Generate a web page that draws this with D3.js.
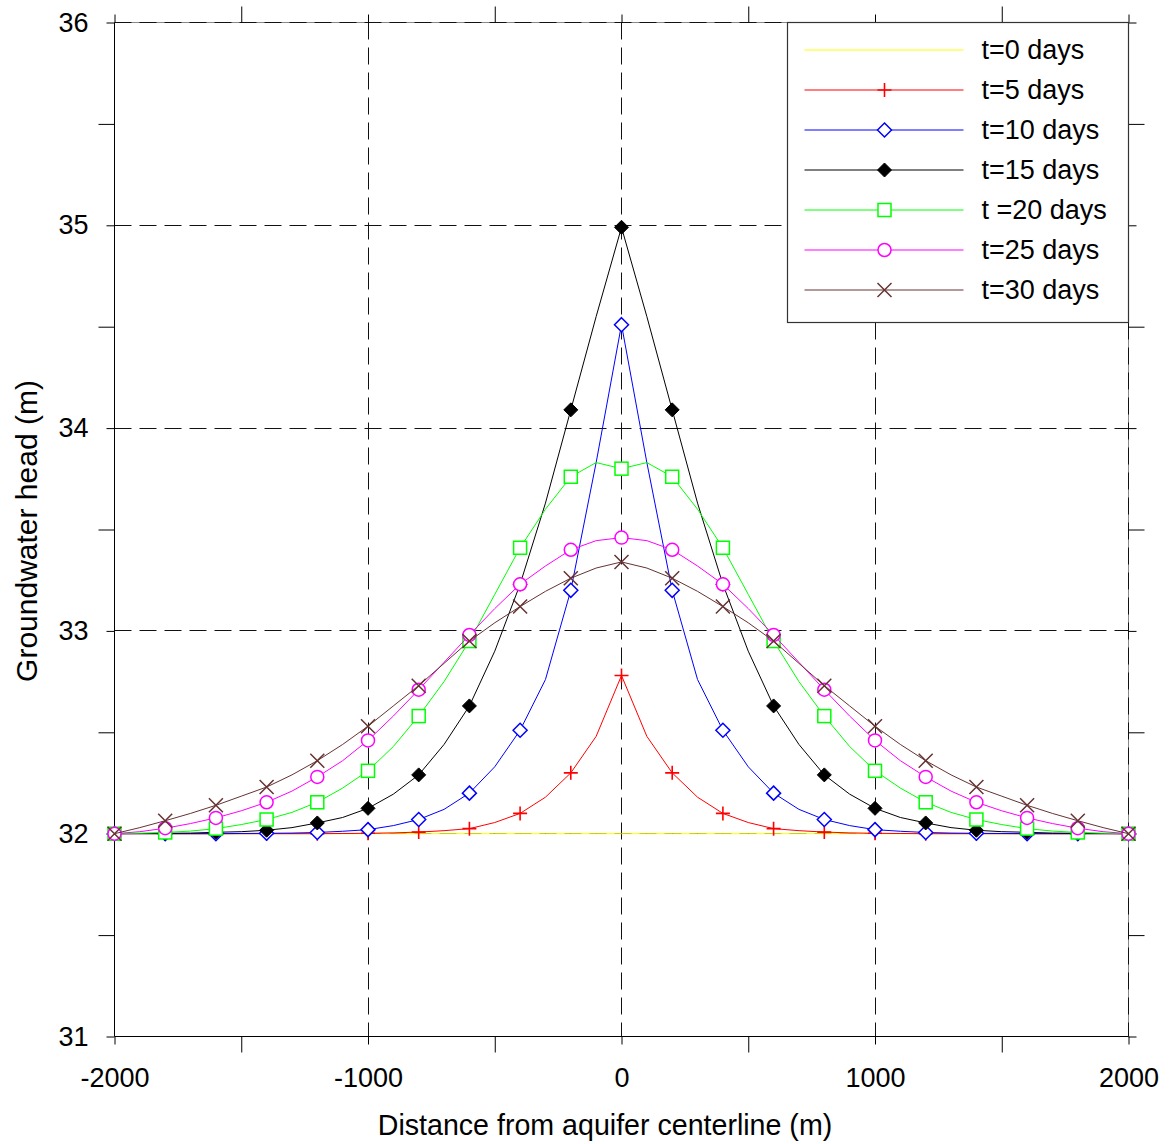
<!DOCTYPE html>
<html lang="en">
<head>
<meta charset="UTF-8">
<title>Groundwater head</title>
<style>
    body { margin: 0; background: #fff; }
    svg text { font-family: "Liberation Sans", Arial, sans-serif; fill: #000; }
</style>
<script src="https://d3js.org/d3.v7.min.js"></script>
</head>
<body>
<svg id="chart" width="1171" height="1144"></svg>
<script>
    // distance from centerline, every 100 m; markers sit on every 200 m
    var distance = d3.range(-2000, 2001, 100);

    var head_t0 = [32,32,32,32,32,32,32,32,32,32,32,32,32,32,32,32,32,32,32,32,32,
        32,32,32,32,32,32,32,32,32,32,32,32,32,32,32,32,32,32,32,32];
    var head_t5 = [32,32,32,32,32,32,32,32,32,32.001,32.002,32.004,32.008,32.015,32.025,32.055,32.10,32.18,32.30,32.48,32.78,
        32.48,32.30,32.18,32.10,32.055,32.025,32.015,32.008,32.004,32.002,32.001,32,32,32,32,32,32,32,32,32];
    var head_t10 = [32,32,32,32,32,32.001,32.002,32.003,32.006,32.012,32.02,32.04,32.07,32.12,32.20,32.33,32.51,32.76,33.20,33.83,34.51,
        33.83,33.20,32.76,32.51,32.33,32.20,32.12,32.07,32.04,32.02,32.012,32.006,32.003,32.002,32.001,32,32,32,32,32];
    var head_t15 = [32,32.001,32.002,32.003,32.007,32.01,32.017,32.03,32.053,32.08,32.125,32.195,32.29,32.44,32.63,32.90,33.23,33.63,34.09,34.55,34.99,
        34.55,34.09,33.63,33.23,32.90,32.63,32.44,32.29,32.195,32.125,32.08,32.053,32.03,32.017,32.01,32.007,32.003,32.002,32.001,32];
    var head_t20 = [32,32.002,32.006,32.013,32.025,32.045,32.07,32.105,32.155,32.225,32.31,32.43,32.58,32.75,32.95,33.18,33.41,33.60,33.76,33.83,33.80,
        33.83,33.76,33.60,33.41,33.18,32.95,32.75,32.58,32.43,32.31,32.225,32.155,32.105,32.07,32.045,32.025,32.013,32.006,32.002,32];
    var head_t25 = [32,32.01,32.027,32.05,32.078,32.113,32.155,32.21,32.28,32.36,32.46,32.58,32.71,32.845,32.98,33.11,33.23,33.32,33.40,33.445,33.46,
        33.445,33.40,33.32,33.23,33.11,32.98,32.845,32.71,32.58,32.46,32.36,32.28,32.21,32.155,32.113,32.078,32.05,32.027,32.01,32];
    var head_t30 = [32,32.03,32.064,32.10,32.14,32.185,32.23,32.29,32.36,32.44,32.53,32.63,32.73,32.84,32.95,33.04,33.12,33.195,33.26,33.31,33.34,
        33.31,33.26,33.195,33.12,33.04,32.95,32.84,32.73,32.63,32.53,32.44,32.36,32.29,32.23,32.185,32.14,32.10,32.064,32.03,32];

    var seriesNames = ["t=0 days", "t=5 days", "t=10 days", "t=15 days", "t =20 days", "t=25 days", "t=30 days"];
    var seriesValues = [head_t0, head_t5, head_t10, head_t15, head_t20, head_t25, head_t30];
    var seriesColors = ["#ffff00", "#ff0000", "#0000ff", "#000000", "#00ff00", "#ff00ff", "#663333"];
    var seriesMarkers = ["none", "plus", "diamond", "diamondFilled", "square", "circle", "cross"];

    var xMajor = [-2000, -1000, 0, 1000, 2000];
    var xMinor = [-1500, -500, 500, 1500];
    var yMajor = [31, 32, 33, 34, 35, 36];
    var yMinor = [31.5, 32.5, 33.5, 34.5, 35.5];

    var svg = d3.select("#chart");
    var plotLeft = 114.5, plotRight = 1128.5, plotTop = 22.5, plotBottom = 1036.5;

    var x = d3.scaleLinear().domain([-2000, 2000]).range([plotLeft, plotRight]);
    var y = d3.scaleLinear().domain([31, 36]).range([plotBottom, plotTop]);
    var crisp = function (v) { return Math.floor(v) + 0.5; };

    // frame (top and right are lighter, the grid dashes sit over them)
    svg.append("line").attr("x1", plotLeft).attr("x2", plotRight).attr("y1", plotTop).attr("y2", plotTop).attr("stroke", "#888");
    svg.append("line").attr("x1", plotRight).attr("x2", plotRight).attr("y1", plotTop).attr("y2", plotBottom).attr("stroke", "#888");

    // grid
    var grid = svg.append("g").attr("stroke", "#111").attr("stroke-dasharray", "17,8").attr("stroke-width", 1);
    grid.selectAll(".gx").data(xMajor.slice(1)).enter().append("line")
        .attr("x1", function (d) { return crisp(x(d)); }).attr("x2", function (d) { return crisp(x(d)); })
        .attr("y1", plotTop).attr("y2", plotBottom);
    grid.selectAll(".gy").data(yMajor.slice(1)).enter().append("line")
        .attr("y1", function (d) { return crisp(y(d)); }).attr("y2", function (d) { return crisp(y(d)); })
        .attr("x1", plotLeft).attr("x2", plotRight);

    svg.append("line").attr("x1", plotLeft).attr("x2", plotLeft).attr("y1", plotTop).attr("y2", plotBottom).attr("stroke", "#000");
    svg.append("line").attr("x1", plotLeft).attr("x2", plotRight).attr("y1", plotBottom).attr("y2", plotBottom).attr("stroke", "#000");

    function styleAxis(g) {
        g.select(".domain").remove();
        g.selectAll(".tick line").attr("stroke", "#000");
        g.selectAll("text").style("font-size", "27px").attr("fill", "#000");
    }
    var plainNumber = function (d) { return String(d); };

    // x axes
    svg.append("g").attr("transform", "translate(0," + plotBottom + ")")
        .call(d3.axisBottom(x).tickValues(xMajor).tickSize(8).tickPadding(23).tickFormat(plainNumber))
        .call(styleAxis);
    svg.append("g").attr("transform", "translate(0," + plotBottom + ")")
        .call(d3.axisBottom(x).tickValues(xMinor).tickSize(16).tickFormat(""))
        .call(styleAxis);
    svg.append("g").attr("transform", "translate(0," + plotTop + ")")
        .call(d3.axisTop(x).tickValues(xMajor).tickSize(8).tickFormat(""))
        .call(styleAxis);
    svg.append("g").attr("transform", "translate(0," + plotTop + ")")
        .call(d3.axisTop(x).tickValues(xMinor).tickSize(16).tickFormat(""))
        .call(styleAxis);

    // y axes
    svg.append("g").attr("transform", "translate(" + plotLeft + ",0)")
        .call(d3.axisLeft(y).tickValues(yMajor).tickSize(8).tickPadding(18).tickFormat(plainNumber))
        .call(styleAxis);
    svg.append("g").attr("transform", "translate(" + plotLeft + ",0)")
        .call(d3.axisLeft(y).tickValues(yMinor).tickSize(16).tickFormat(""))
        .call(styleAxis);
    svg.append("g").attr("transform", "translate(" + plotRight + ",0)")
        .call(d3.axisRight(y).tickValues(yMajor).tickSize(8).tickFormat(""))
        .call(styleAxis);
    svg.append("g").attr("transform", "translate(" + plotRight + ",0)")
        .call(d3.axisRight(y).tickValues(yMinor).tickSize(16).tickFormat(""))
        .call(styleAxis);

    // axis titles
    svg.append("text").attr("x", 605).attr("y", 1135)
        .attr("text-anchor", "middle").style("font-size", "28.6px")
        .text("Distance from aquifer centerline (m)");
    svg.append("text").attr("transform", "translate(37,531) rotate(-90)")
        .attr("text-anchor", "middle").style("font-size", "30px")
        .text("Groundwater head (m)");

    function drawMarker(g, type, color) {
        if (type == "plus") {
            g.append("path").attr("d", "M-7,0H7M0,-7V7").attr("stroke", color).attr("stroke-width", 1.6).attr("fill", "none");
        } else if (type == "diamond") {
            g.append("path").attr("d", "M0,-7L7,0L0,7L-7,0Z").attr("stroke", color).attr("stroke-width", 1.5).attr("fill", "#fff");
        } else if (type == "diamondFilled") {
            g.append("path").attr("d", "M0,-7L7,0L0,7L-7,0Z").attr("stroke", color).attr("fill", color);
        } else if (type == "square") {
            g.append("rect").attr("x", -6.5).attr("y", -6.5).attr("width", 13).attr("height", 13)
                .attr("stroke", color).attr("stroke-width", 1.5).attr("fill", "#fff");
        } else if (type == "circle") {
            g.append("circle").attr("r", 6.5).attr("stroke", color).attr("stroke-width", 1.5).attr("fill", "#fff");
        } else if (type == "cross") {
            g.append("path").attr("d", "M-7,-7L7,7M7,-7L-7,7").attr("stroke", color).attr("stroke-width", 1.5).attr("fill", "none");
        }
    }

    var line = d3.line()
        .x(function (d, i) { return x(distance[i]); })
        .y(function (d) { return y(d); });

    seriesValues.forEach(function (vals, s) {
        var g = svg.append("g");
        g.append("path").datum(vals).attr("d", line)
            .attr("fill", "none").attr("stroke", seriesColors[s]).attr("stroke-width", 1);
        if (seriesMarkers[s] != "none") {
            vals.forEach(function (v, i) {
                if (distance[i] % 200 != 0) return;
                var m = g.append("g").attr("transform", "translate(" + x(distance[i]) + "," + y(v) + ")");
                drawMarker(m, seriesMarkers[s], seriesColors[s]);
            });
        }
    });

    // legend
    var legend = svg.append("g").attr("transform", "translate(787.5,22.5)");
    legend.append("rect").attr("width", 341).attr("height", 300)
        .attr("fill", "#fff").attr("stroke", "#333").attr("stroke-width", 1.2);
    seriesNames.forEach(function (name, s) {
        var row = legend.append("g").attr("transform", "translate(0," + (27.5 + s * 40) + ")");
        row.append("line").attr("x1", 17).attr("x2", 176).attr("stroke", seriesColors[s]).attr("stroke-width", 1);
        var m = row.append("g").attr("transform", "translate(97,0)");
        drawMarker(m, seriesMarkers[s], seriesColors[s]);
        row.append("text").attr("x", 194).attr("y", 9).style("font-size", "27px").text(name);
    });
</script>
</body>
</html>
